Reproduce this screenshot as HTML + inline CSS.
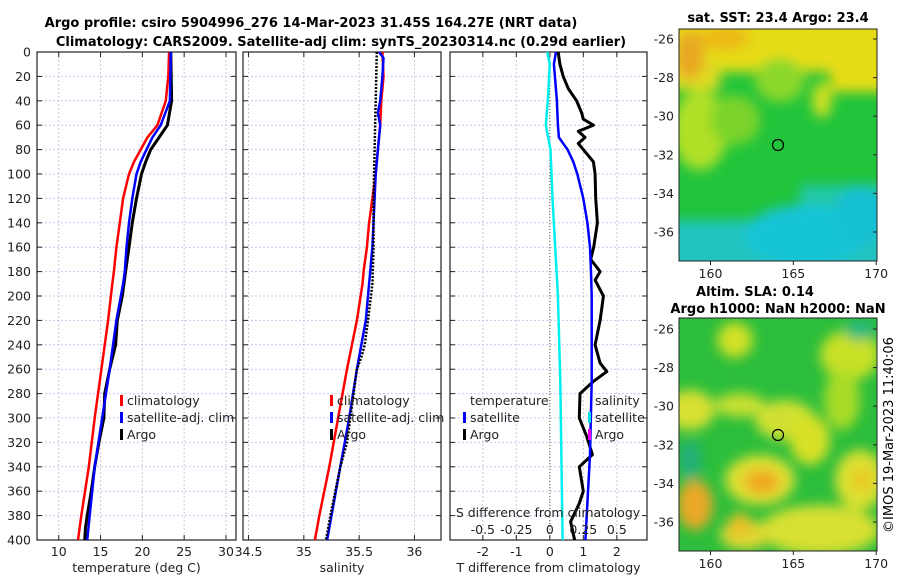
<!DOCTYPE html>
<html><head><meta charset="utf-8"><style>
body{margin:0;background:#fff;width:900px;height:580px;overflow:hidden}
svg{display:block;font-family:"DejaVu Sans","Liberation Sans",sans-serif}
</style></head><body>
<svg id="fig" width="900" height="580" viewBox="0 0 900 580">
<defs>
<filter id="blur6" x="-50%" y="-50%" width="200%" height="200%"><feGaussianBlur stdDeviation="6"/></filter>
<clipPath id="clipTop"><rect x="679" y="29" width="198" height="232"/></clipPath>
<clipPath id="clipBot"><rect x="679" y="318" width="198" height="233"/></clipPath>
</defs>
<text x="311" y="27" text-anchor="middle" font-size="13" font-weight="bold">Argo profile: csiro 5904996_276 14-Mar-2023 31.45S 164.27E (NRT data)</text>
<text x="341" y="46" text-anchor="middle" font-size="13" font-weight="bold">Climatology: CARS2009. Satellite-adj clim: synTS_20230314.nc (0.29d earlier)</text>

<g>
<text x="778" y="22" text-anchor="middle" font-size="13" font-weight="bold">sat. SST: 23.4 Argo: 23.4</text>
<g clip-path="url(#clipTop)">
<rect x="679" y="29" width="198" height="232" fill="#22c43c"/>
<g filter="url(#blur6)">
<rect x="660" y="10" width="240" height="62" fill="#e6dc18"/>
<rect x="660" y="60" width="60" height="30" fill="#e0dc20"/>
<rect x="830" y="60" width="70" height="32" fill="#e6dc18"/>
<ellipse cx="780" cy="80" rx="25" ry="22" fill="#8cd82a"/>
<ellipse cx="700" cy="130" rx="28" ry="40" fill="#b0e028"/>
<ellipse cx="735" cy="120" rx="25" ry="25" fill="#7cd42c"/>
<ellipse cx="690" cy="55" rx="15" ry="25" fill="#e8a820"/>
<ellipse cx="725" cy="38" rx="25" ry="12" fill="#ecb818"/>
<ellipse cx="822" cy="100" rx="10" ry="18" fill="#d0e020"/>
<rect x="800" y="185" width="100" height="90" fill="#20c8a8"/>
<rect x="660" y="220" width="240" height="60" fill="#20c4c0"/>
<ellipse cx="805" cy="235" rx="60" ry="30" fill="#18c4d8"/>
<ellipse cx="860" cy="215" rx="25" ry="30" fill="#18c0d4"/>
</g>
</g>
<rect x="679" y="29" width="198" height="232" fill="none" stroke="#222" stroke-width="1"/>
<circle cx="778" cy="145" r="5.5" fill="none" stroke="#000" stroke-width="1.2"/>
</g>

<g>
<text x="755" y="296" text-anchor="middle" font-size="13" font-weight="bold">Altim. SLA: 0.14</text>
<text x="778" y="313" text-anchor="middle" font-size="13" font-weight="bold">Argo h1000: NaN h2000: NaN</text>
<g clip-path="url(#clipBot)">
<rect x="679" y="318" width="198" height="233" fill="#2cbe3c"/>
<g filter="url(#blur6)">
<ellipse cx="735" cy="340" rx="18" ry="18" fill="#d0e028"/>
<ellipse cx="850" cy="355" rx="30" ry="25" fill="#c8e028"/>
<ellipse cx="842" cy="400" rx="18" ry="30" fill="#a8dc28"/>
<ellipse cx="690" cy="410" rx="25" ry="20" fill="#d8e030"/>
<ellipse cx="740" cy="405" rx="25" ry="12" fill="#c8e030"/>
<ellipse cx="785" cy="420" rx="30" ry="20" fill="#d0e030"/>
<ellipse cx="810" cy="440" rx="20" ry="25" fill="#d8e028"/>
<ellipse cx="760" cy="480" rx="35" ry="25" fill="#e0e030"/>
<ellipse cx="762" cy="482" rx="18" ry="12" fill="#f0a820"/>
<ellipse cx="695" cy="505" rx="18" ry="25" fill="#eaa828"/>
<ellipse cx="860" cy="480" rx="25" ry="30" fill="#dce030"/>
<ellipse cx="862" cy="480" rx="10" ry="12" fill="#ecc828"/>
<ellipse cx="820" cy="530" rx="60" ry="25" fill="#d8e030"/>
<ellipse cx="745" cy="535" rx="25" ry="15" fill="#e0d830"/>
<ellipse cx="740" cy="525" rx="12" ry="12" fill="#eac028"/>
<ellipse cx="690" cy="460" rx="12" ry="20" fill="#20b078"/>
<ellipse cx="860" cy="330" rx="15" ry="10" fill="#20b880"/>
</g>
</g>
<rect x="679" y="318" width="198" height="233" fill="none" stroke="#222" stroke-width="1"/>
<circle cx="778" cy="435" r="5.5" fill="none" stroke="#000" stroke-width="1.2"/>
</g>
<text transform="translate(893,435) rotate(-90)" text-anchor="middle" font-size="13">©IMOS 19-Mar-2023 11:40:06</text>
<g id="dyn"></g>
</svg>
<script>
const depthTicks=[0,20,40,60,80,100,120,140,160,180,200,220,240,260,280,300,320,340,360,380,400];
const tempTicks=[10,15,20,25,30];
const salTicks=[34.5,35,35.5,36];
const salTickLabels=["34.5","35","35.5","36"];
const tdiffTicks=[-2,-1,0,1,2];
const sdiffTicks=[-0.5,-0.25,0,0.25,0.5];
const sdiffTickLabels=["-0.5","-0.25","0","0.25","0.5"];
const mapLatTicks=[-26,-28,-30,-32,-34,-36];
const mapLonTicks=[160,165,170];

const tClimDepth=[0,20,40,60,70,80,90,100,120,140,160,180,190,220,260,300,340,380,400];
const tClimVal=[23.2,23.1,22.8,21.8,20.6,19.8,19.0,18.4,17.7,17.3,16.9,16.6,16.4,15.9,15.1,14.3,13.6,12.7,12.3];
const tSatDepth=[0,40,60,70,80,90,100,120,140,160,180,190,220,260,300,340,380,400];
const tSatVal=[23.4,23.3,22.2,21.2,20.5,19.8,19.3,18.8,18.4,18.1,17.9,17.7,16.9,16.1,15.2,14.3,13.7,13.4];
const tArgoDepth=[0,40,60,70,80,90,100,120,140,160,180,200,220,240,260,270,280,300,320,340,360,380,390,400];
const tArgoVal=[23.4,23.5,23.0,22.0,21.0,20.4,19.9,19.3,18.8,18.4,18.0,17.6,17.0,16.8,16.1,15.8,15.5,15.4,14.8,14.3,13.9,13.4,13.2,13.1];

const sClimDepth=[0,20,40,60,80,100,120,140,160,180,190,220,260,300,340,380,400];
const sClimVal=[35.71,35.72,35.70,35.69,35.67,35.65,35.62,35.59,35.57,35.54,35.53,35.48,35.39,35.31,35.23,35.14,35.10];
const sSatDepth=[0,5,20,40,50,60,80,100,120,140,160,180,190,220,260,300,320,340,380,400];
const sSatVal=[35.68,35.72,35.71,35.69,35.67,35.69,35.67,35.65,35.64,35.63,35.62,35.60,35.59,35.56,35.48,35.41,35.37,35.33,35.25,35.21];
const sArgoDepth=[0,40,80,120,160,190,220,240,250,260,300,320,340,380,400];
const sArgoVal=[35.66,35.65,35.64,35.63,35.63,35.62,35.58,35.55,35.52,35.48,35.42,35.39,35.33,35.24,35.20];

const dTSatDepth=[0,10,20,40,60,70,75,80,90,100,120,140,160,180,200,270,330,400];
const dTSatVal=[0.18,0.12,0.15,0.21,0.24,0.27,0.4,0.53,0.7,0.82,1.0,1.12,1.2,1.23,1.25,1.25,1.2,1.06];
const dTArgoDepth=[0,10,20,30,40,50,55,60,65,70,75,80,90,100,120,140,160,170,180,187,200,210,220,240,255,262,270,280,300,315,330,340,360,370,385,400];
const dTArgoVal=[0.25,0.3,0.4,0.55,0.8,0.95,1.0,1.3,0.85,1.05,0.85,1.0,1.3,1.35,1.37,1.42,1.31,1.22,1.5,1.35,1.6,1.55,1.5,1.35,1.5,1.7,1.3,0.9,0.88,1.1,1.27,0.88,1.0,0.88,0.62,0.74];
const dSSatDepth=[0,10,40,60,80,120,200,270,400];
const dSSatVal=[-0.02,0,-0.015,-0.03,0.005,0.02,0.06,0.078,0.095];

const NS="http://www.w3.org/2000/svg";
const root=document.getElementById('dyn');
function mk(tag,attrs,parent){const e=document.createElementNS(NS,tag);for(const k in attrs)e.setAttribute(k,attrs[k]);(parent||root).appendChild(e);return e;}
const yTop=52,yBot=540;
function yD(d){return yTop+(d/400)*(yBot-yTop);}

const panels=[
 {x0:37,x1:236,min:7.4,max:31.2,ticks:tempTicks,labels:tempTicks.map(String),title:"temperature (deg C)",name:"temperature-panel"},
 {x0:243,x1:441,min:34.45,max:36.24,ticks:salTicks,labels:salTickLabels,title:"salinity",name:"salinity-panel"},
 {x0:450,x1:647,min:-2.98,max:2.9,ticks:tdiffTicks,labels:tdiffTicks.map(String),title:"T difference from climatology",name:"difference-panel"}
];
function sx(p,v){return p.x0+(v-p.min)/(p.max-p.min)*(p.x1-p.x0);}

panels.forEach((p,i)=>{
 const g=mk('g',{});
 
 
 depthTicks.forEach(d=>{
  const y=yD(d);
  const gl=mk('line',{x1:p.x0,x2:p.x1,y1:y,y2:y,stroke:'#c4c8ec','stroke-width':1,'stroke-dasharray':'2,2'},g);
  
  
  mk('line',{x1:p.x0,x2:p.x0+5,y1:y,y2:y,stroke:'#222'},g);
  mk('line',{x1:p.x1-5,x2:p.x1,y1:y,y2:y,stroke:'#222'},g);
 });
 p.ticks.forEach((t,k)=>{
  const x=sx(p,t);
  const gl=mk('line',{x1:x,x2:x,y1:yTop,y2:yBot,stroke:'#d4c4dc','stroke-width':1,'stroke-dasharray':'2,2'},g);
  
  
  mk('line',{x1:x,x2:x,y1:yTop,y2:yTop+5,stroke:'#222'},g);
  mk('line',{x1:x,x2:x,y1:yBot-5,y2:yBot,stroke:'#222'},g);
  const tl=mk('text',{x:x,y:556,'text-anchor':'middle','font-size':12.5,fill:'#222'},g);
  tl.textContent=p.labels[k];
  
  
 });
 const at=mk('text',{x:(p.x0+p.x1)/2,y:572,'text-anchor':'middle','font-size':12.5,fill:'#222'},g);
 at.textContent=p.title;
 
 
 const fr=mk('rect',{x:p.x0,y:yTop,width:p.x1-p.x0,height:yBot-yTop,fill:'none',stroke:'#222','stroke-width':1.2},g);
 
 
});
depthTicks.forEach(d=>{
 const t=mk('text',{x:31,y:yD(d)+4.5,'text-anchor':'end','font-size':12.5,fill:'#222'});
 t.textContent=String(d);
 
 
});

function series(p,depths,vals,color,w,dash,name,scale){
 const pts=depths.map((d,i)=>sx(p,vals[i]*(scale||1)).toFixed(1)+','+yD(d).toFixed(1)).join(' ');
 const a={points:pts,fill:'none',stroke:color,'stroke-width':w,'stroke-linejoin':'round'};
 if(dash)a['stroke-dasharray']=dash;
 const e=mk('polyline',a);
 
 
}
const P1=panels[0],P2=panels[1],P3=panels[2];
series(P1,tClimDepth,tClimVal,'#ff0000',2.5,null,'temperature-climatology-line');
series(P1,tArgoDepth,tArgoVal,'#000',3,null,'temperature-argo-line');
series(P1,tSatDepth,tSatVal,'#0000ff',2.5,null,'temperature-satellite-line');
series(P2,sClimDepth,sClimVal,'#ff0000',2.5,null,'salinity-climatology-line');
series(P2,sSatDepth,sSatVal,'#0000ff',2.5,null,'salinity-satellite-line');
series(P2,sArgoDepth,sArgoVal,'#000',2.5,'2,1.5','salinity-argo-line');
const z=mk('line',{x1:sx(P3,0),x2:sx(P3,0),y1:yTop,y2:yBot,stroke:'#556633','stroke-width':1,'stroke-dasharray':'1,2'});


series(P3,dSSatDepth,dSSatVal,'#00eeee',2.5,null,'salinity-diff-satellite-line',4);
series(P3,dTArgoDepth,dTArgoVal,'#000',3,null,'temperature-diff-argo-line');
series(P3,dTSatDepth,dTSatVal,'#0000ff',2.5,null,'temperature-diff-satellite-line');

const sl=mk('text',{x:548,y:517,'text-anchor':'middle','font-size':12.5,fill:'#222'});
sl.textContent='S difference from climatology';


sdiffTicks.forEach((t,k)=>{
 const s=mk('text',{x:sx(P3,t*4),y:534,'text-anchor':'middle','font-size':12.5,fill:'#222'});
 s.textContent=sdiffTickLabels[k];
 
 
});

function legEntry(mx,ty,color,label,name){
 const g=mk('g',{});
 
 
 if(color)mk('rect',{x:mx,y:ty-10,width:3,height:11,fill:color},g);
 const t=mk('text',{x:mx+7,y:ty,'font-size':12.5,fill:'#222'},g);
 t.textContent=label;
}
[[120,'temperature'],[330,'salinity']].forEach(([mx,n])=>{
 legEntry(mx,405,'#ff0000','climatology',n+'-legend-climatology');
 legEntry(mx,422,'#0000ff','satellite-adj. clim',n+'-legend-satellite');
 legEntry(mx,439,'#000','Argo',n+'-legend-argo');
});
legEntry(463,405,null,'temperature','diff-legend-temperature-header');
legEntry(463,422,'#0000ff','satellite','diff-legend-temperature-satellite');
legEntry(463,439,'#000','Argo','diff-legend-temperature-argo');
legEntry(588,405,null,'salinity','diff-legend-salinity-header');
legEntry(588,422,'#00dddd','satellite','diff-legend-salinity-satellite');
legEntry(588,439,'#ee00ee','Argo','diff-legend-salinity-argo');

function mapAxes(top,bot,name){
 const lx=v=>679+(v-158.1)/(170.05-158.1)*198;
 const ly=v=>top+10+(-26-v)*19.3;
 mapLatTicks.forEach(v=>{
  const y=ly(v);
  mk('line',{x1:873,x2:877,y1:y,y2:y,stroke:'#222'});
  const t=mk('text',{x:674,y:y+4.5,'text-anchor':'end','font-size':12.5,fill:'#222'});
  t.textContent=String(v);
  
  
 });
 mapLonTicks.forEach(v=>{
  const x=lx(v);
  mk('line',{x1:x,x2:x,y1:bot,y2:bot+4,stroke:'#222'});
  const t=mk('text',{x:x,y:bot+17,'text-anchor':'middle','font-size':12.5,fill:'#222'});
  t.textContent=String(v);
  
  
 });
}
mapAxes(29,261,'sst-map');
mapAxes(319,551,'sla-map');
</script>
</body></html>
